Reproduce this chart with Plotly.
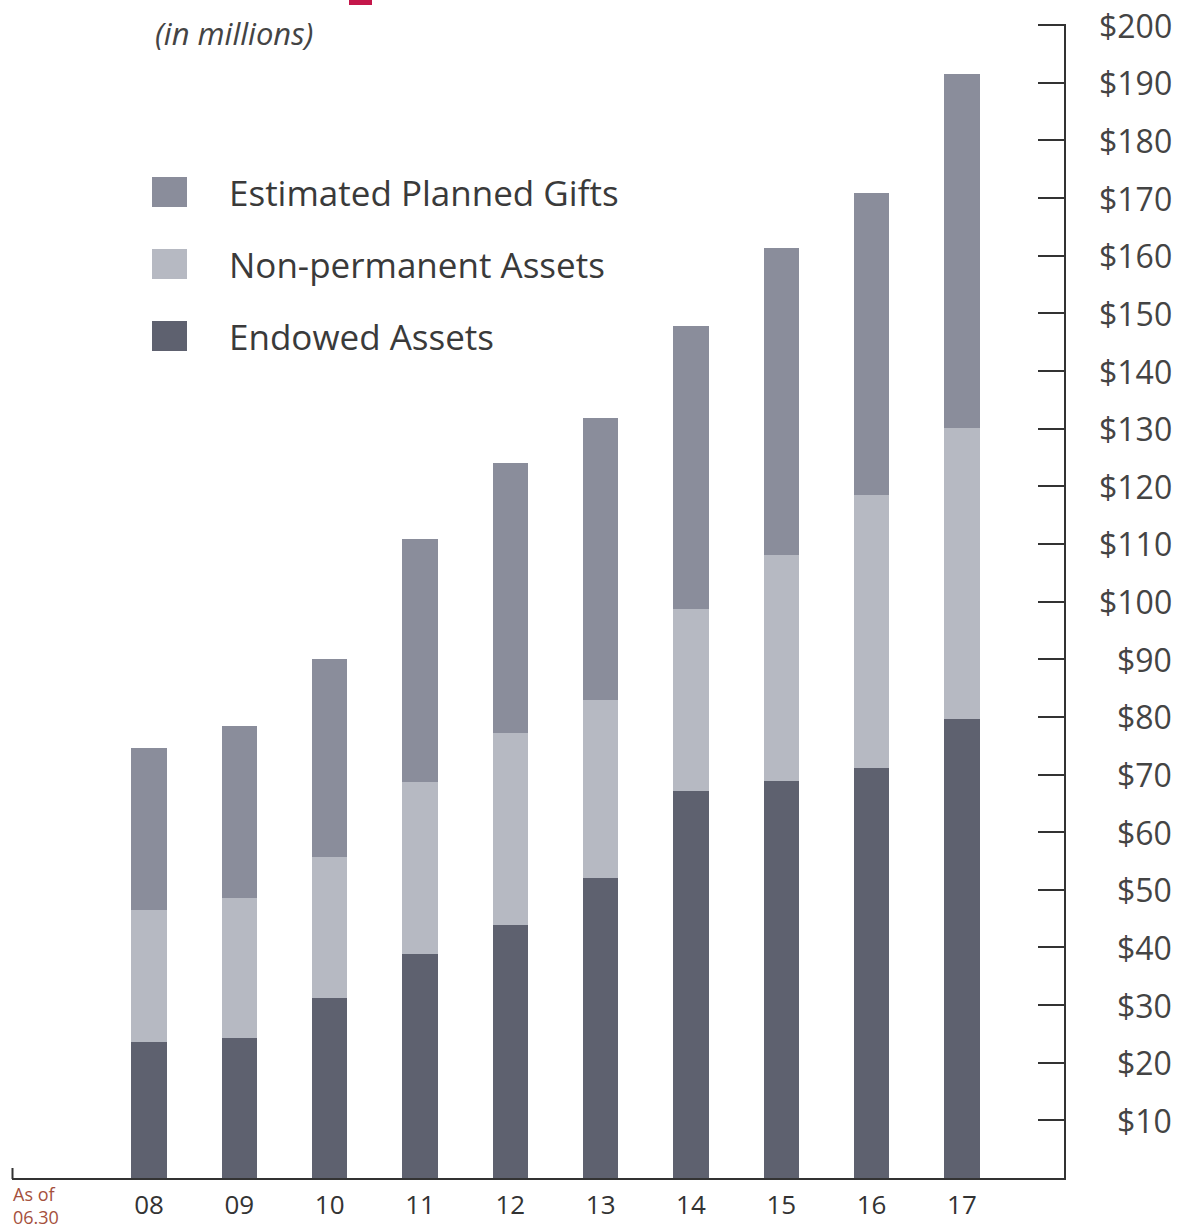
import plotly.graph_objects as go

years = ["08", "09", "10", "11", "12", "13", "14", "15", "16", "17"]
endowed = [23.6, 24.3, 31.3, 38.8, 43.9, 52.1, 67.2, 68.8, 71.2, 79.7]
non_permanent = [22.9, 24.3, 24.4, 29.9, 33.3, 30.8, 31.5, 39.2, 47.3, 50.5]
planned_gifts = [28.1, 29.9, 34.4, 42.1, 46.8, 48.9, 49.1, 53.4, 52.4, 61.3]

series_names = ["Estimated Planned Gifts", "Non-permanent Assets", "Endowed Assets"]
series_colors = ["#8a8d9b", "#b6b9c2", "#5e616f"]

y_ticks = list(range(10, 201, 10))
y_tick_labels = [f"${v}" for v in y_ticks]

W, H = 1180, 1232
L, R, T, B = 12, 116, 24, 54
Y_MAX = 200.2
PW, PH = W - L - R, H - T - B


def px_x(x):
    return (x - L) / PW


def px_y(y):
    return (H - B - y) / PH


fig = go.Figure()
for name, vals, col in [
    (series_names[2], endowed, series_colors[2]),
    (series_names[1], non_permanent, series_colors[1]),
    (series_names[0], planned_gifts, series_colors[0]),
]:
    fig.add_trace(go.Bar(x=years, y=vals, name=name, marker=dict(color=col, line=dict(width=0)),
                         showlegend=False))

font_main = "Open Sans"
text_col = "#3a3a3a"

annotations = []
for v, lab in zip(y_ticks, y_tick_labels):
    annotations.append(dict(x=px_x(1174), xref="paper", y=v, yref="y", text=lab, showarrow=False,
                            xanchor="right", yanchor="middle",
                            font=dict(family=font_main, size=32, color="#444444")))

# legend drawn manually
shapes = []
leg_y = [192, 264, 336]
for name, col, yc in zip(series_names, series_colors, leg_y):
    shapes.append(dict(type="rect", xref="paper", yref="paper", x0=px_x(152), x1=px_x(187),
                       y0=px_y(yc - 15), y1=px_y(yc + 15), fillcolor=col, line=dict(width=0)))
    annotations.append(dict(x=px_x(227), xref="paper", y=px_y(yc), yref="paper", text=name,
                            showarrow=False, xanchor="left", yanchor="middle",
                            font=dict(family=font_main, size=35, color=text_col)))

annotations.append(dict(x=px_x(153), xref="paper", y=px_y(33), yref="paper", text="<i>(in millions)</i>",
                        showarrow=False, xanchor="left", yanchor="middle",
                        font=dict(family=font_main, size=31, color="#444444")))
annotations.append(dict(x=px_x(11), xref="paper", y=px_y(1205), yref="paper", text="As of<br>06.30",
                        showarrow=False, xanchor="left", yanchor="middle", align="left",
                        font=dict(family=font_main, size=18, color="#a5503c")))

# red title fragment at top
shapes.append(dict(type="rect", xref="paper", yref="paper", x0=px_x(349), x1=px_x(372),
                   y0=px_y(5), y1=px_y(-5), fillcolor="#c4164a", line=dict(width=0)))
# small left tick of x axis
shapes.append(dict(type="line", xref="paper", yref="paper", x0=px_x(12.5), x1=px_x(12.5),
                   y0=px_y(1179), y1=px_y(1168), line=dict(color="#333333", width=2)))

fig.update_layout(
    width=W, height=H,
    margin=dict(l=L, r=R, t=T, b=B, pad=0, autoexpand=False),
    barmode="stack",
    bargap=0.61,
    plot_bgcolor="white",
    paper_bgcolor="white",
    annotations=annotations,
    shapes=shapes,
    xaxis=dict(range=[-1.517, 10.13], showline=True, linecolor="#333333", linewidth=2,
               ticks="", showgrid=False, zeroline=False, ticklabelstandoff=3, automargin=False,
               tickfont=dict(family=font_main, size=26, color="#333333")),
    yaxis=dict(range=[0, Y_MAX], side="right", showline=True, linecolor="#333333", linewidth=2,
               tickvals=y_ticks, ticks="inside", ticklen=26, tickwidth=2, tickcolor="#333333",
               showticklabels=False, showgrid=False, zeroline=False, automargin=False),
)

fig.write_html("out.html")
